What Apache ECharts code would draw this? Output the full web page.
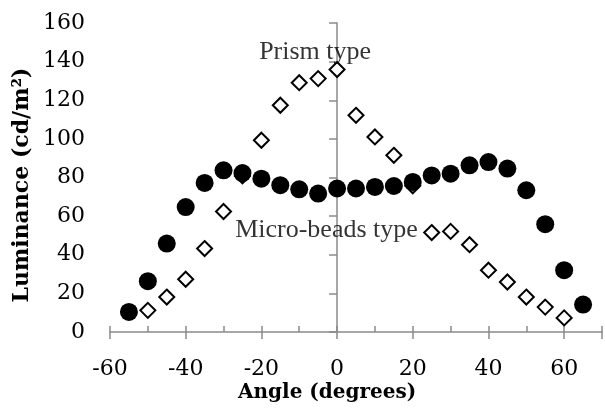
<!DOCTYPE html>
<html>
<head>
<meta charset="utf-8">
<script src="https://cdn.jsdelivr.net/npm/echarts@6/dist/echarts.min.js"></script>
<style>
  html, body { margin: 0; padding: 0; background: #fff; }
  #chart { width: 605px; height: 409px; }
</style>
</head>
<body>
<div id="chart"></div>
<script>
// angles in degrees
var angles = [-55, -50, -45, -40, -35, -30, -25, -20, -15, -10, -5, 0, 5, 10, 15, 20, 25, 30, 35, 40, 45, 50, 55, 60, 65];
// filled circles
var beadsLum = [10.4, 26.3, 45.8, 64.7, 77.2, 83.7, 82.3, 79.4, 76, 73.9, 71.7, 74.3, 74.3, 75.1, 75.6, 77.7, 81.1, 82, 86.3, 88, 84.6, 73.4, 55.8, 32, 14.2];
// open diamonds (no point at -55 and 65)
var prismAngles = [-50, -45, -40, -35, -30, -25, -20, -15, -10, -5, 0, 5, 10, 15, 20, 25, 30, 35, 40, 45, 50, 55, 60];
var prismLum = [11.2, 18.1, 27.3, 43.2, 62.4, 80.8, 99.3, 117.4, 129.1, 131.2, 135.9, 112.2, 101, 91.5, 75.7, 51.5, 52.1, 45.2, 32, 25.9, 18.1, 12.9, 7.3];

var xTicks = [-60, -40, -20, 0, 20, 40, 60];
var yTicks = [0, 20, 40, 60, 80, 100, 120, 140, 160];

var noteTexts = ['Prism type', 'Micro-beads type'];
var notePos = [[-5.8, 145], [-2.8, 52.7]];

function zip(xs, ys) {
  return xs.map(function (x, i) { return [x, ys[i]]; });
}

var chart = echarts.init(document.getElementById('chart'));
var axisGray = '#8a8a8a';
var tickFont = { fontFamily: 'DejaVu Serif', fontSize: 22, color: '#000' };

var option = {
  animation: false,
  grid: { left: 110, right: -6, top: 23, bottom: 77 },
  xAxis: [{
    type: 'value',
    min: -60, max: 70, interval: 10,
    splitLine: { show: false },
    axisLine: { lineStyle: { color: axisGray, width: 1.5 } },
    axisTick: { inside: true, length: 6, lineStyle: { color: axisGray, width: 1.5 } },
    axisLabel: Object.assign({
      margin: 26,
      formatter: function (v) { return xTicks.indexOf(v) >= 0 ? String(v) : ''; }
    }, tickFont)
  }, {
    type: 'value',
    position: 'bottom',
    min: -60, max: 70, interval: 20,
    splitLine: { show: false },
    axisLine: { show: false },
    axisTick: { length: 7, lineStyle: { color: axisGray, width: 1.5 } },
    axisLabel: { show: false }
  }],
  yAxis: {
    type: 'value',
    min: yTicks[0], max: yTicks[yTicks.length - 1], interval: 20,
    splitLine: { show: false },
    axisLine: { show: true, lineStyle: { color: axisGray, width: 1.5 } },
    axisTick: { show: true, length: 8, lineStyle: { color: axisGray, width: 1.5 } },
    axisLabel: Object.assign({ margin: 25 }, tickFont)
  },
  series: [{
    // drawn first so the circles cover it where they overlap
    name: 'Prism type',
    type: 'scatter',
    symbol: 'diamond',
    symbolSize: 15,
    itemStyle: { color: '#fff', borderColor: '#000', borderWidth: 2, opacity: 1 },
    data: zip(prismAngles, prismLum),
    z: 2
  }, {
    name: 'Micro-beads type',
    type: 'scatter',
    symbol: 'circle',
    symbolSize: 18,
    itemStyle: { color: '#000', opacity: 1 },
    data: zip(angles, beadsLum),
    z: 5
  }, {
    name: 'notes',
    type: 'scatter',
    symbolSize: 0,
    silent: true,
    data: noteTexts.map(function (t, i) { return { name: t, value: notePos[i] }; }),
    label: {
      show: true,
      position: 'inside',
      formatter: '{b}',
      fontFamily: 'Liberation Serif',
      fontSize: 26,
      color: '#000'
    },
    z: 6
  }],
  graphic: [{
    type: 'text',
    left: 238, top: 383,
    style: { text: 'Angle (degrees)', font: 'bold 20px "DejaVu Serif"', fill: '#000' }
  }, {
    type: 'text',
    x: 22, y: 185,
    rotation: Math.PI / 2,
    style: {
      text: 'Luminance (cd/m\u00b2)',
      font: 'bold 22px "DejaVu Serif"',
      fill: '#000',
      align: 'center',
      verticalAlign: 'middle'
    }
  }]
};

chart.setOption(option);
</script>
</body>
</html>
